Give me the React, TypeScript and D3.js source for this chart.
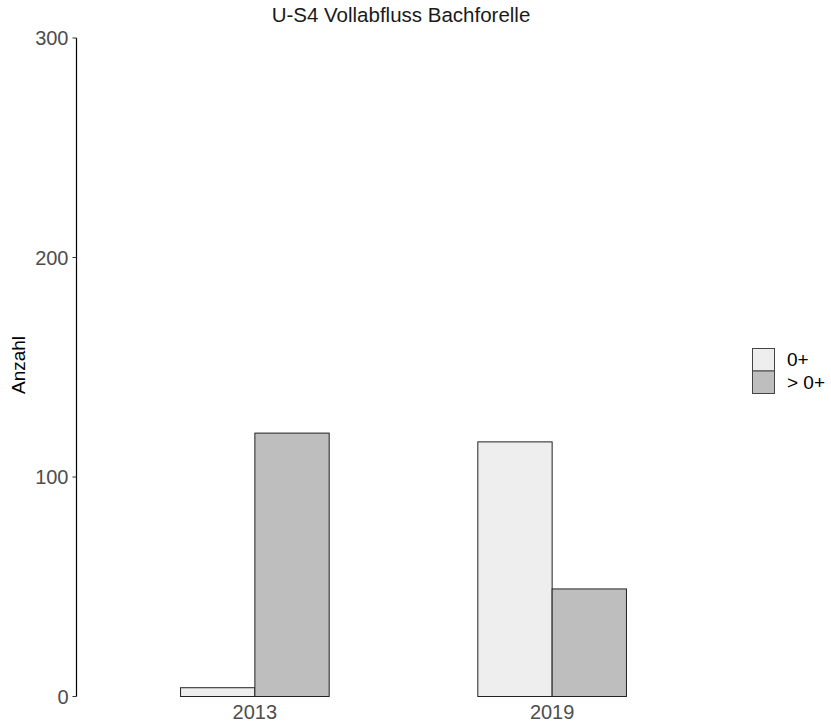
import React from "react";
import * as d3 from "d3";

const years = ["2013", "2019"];
const groups = ["0+", "> 0+"];
const juvenile = [4, 116];
const adult = [120, 49];
const yTicks = [0, 100, 200, 300];
const fills = ["#eeeeee", "#bebebe"];

const W = 831;
const H = 727;
const panel = { left: 76.5, right: 730.5, top: 38, bottom: 696.5 };

export default function App() {
  // discrete positions 1..n, panel expanded by 0.6 units on each side
  const x = d3
    .scaleLinear()
    .domain([0.4, years.length + 0.6])
    .range([panel.left, panel.right]);
  const center = (i: number) => x(i + 1);
  const barW = x(1.25) - x(1);
  const y = d3.scaleLinear().domain([0, 300]).range([panel.bottom, panel.top]);
  const series = [juvenile, adult];

  const font = "'Liberation Sans', Arial, sans-serif";

  return (
    <svg
      width={W}
      height={H}
      style={{ position: "absolute", left: 0, top: 0, background: "#fff" }}
      fontFamily={font}
    >
      <text x={401} y={22} fontSize={20.5} textAnchor="middle" fill="#1a1a1a">
        U-S4 Vollabfluss Bachforelle
      </text>

      {/* bars, dodged within each year */}
      {years.map((yr, i) =>
        series.map((vals, s) => {
          const x0 = center(i) - barW + s * barW;
          return (
            <rect
              key={yr + s}
              x={x0}
              y={y(vals[i])}
              width={barW}
              height={y(0) - y(vals[i])}
              fill={fills[s]}
              stroke="#222"
              strokeWidth={1}
            />
          );
        })
      )}

      {/* y axis */}
      <line x1={panel.left} x2={panel.left} y1={y(300)} y2={y(0)} stroke="#000" strokeWidth={1.2} />
      {yTicks.map((t) => (
        <g key={t}>
          <line x1={panel.left - 4} x2={panel.left} y1={y(t)} y2={y(t)} stroke="#333" strokeWidth={1} />
          <text
            x={panel.left - 8}
            y={y(t)}
            dy="0.35em"
            fontSize={20}
            textAnchor="end"
            fill="#4d4d4d"
          >
            {t}
          </text>
        </g>
      ))}
      <text
        transform={`translate(25,365) rotate(-90)`}
        fontSize={19}
        textAnchor="middle"
        fill="#000"
      >
        Anzahl
      </text>

      {/* x labels */}
      {years.map((yr, i) => (
        <text key={yr} x={center(i)} y={712} dy="0.35em" fontSize={20} textAnchor="middle" fill="#4d4d4d">
          {yr}
        </text>
      ))}

      {/* legend */}
      {groups.map((g, i) => (
        <g key={g}>
          <rect
            x={752.5}
            y={348.5 + i * 22.5}
            width={22}
            height={22.5}
            fill={fills[i]}
            stroke="#444"
            strokeWidth={1}
          />
          <text x={787} y={359.5 + i * 22.5} dy="0.35em" fontSize={19} fill="#000">
            {g}
          </text>
        </g>
      ))}
    </svg>
  );
}
